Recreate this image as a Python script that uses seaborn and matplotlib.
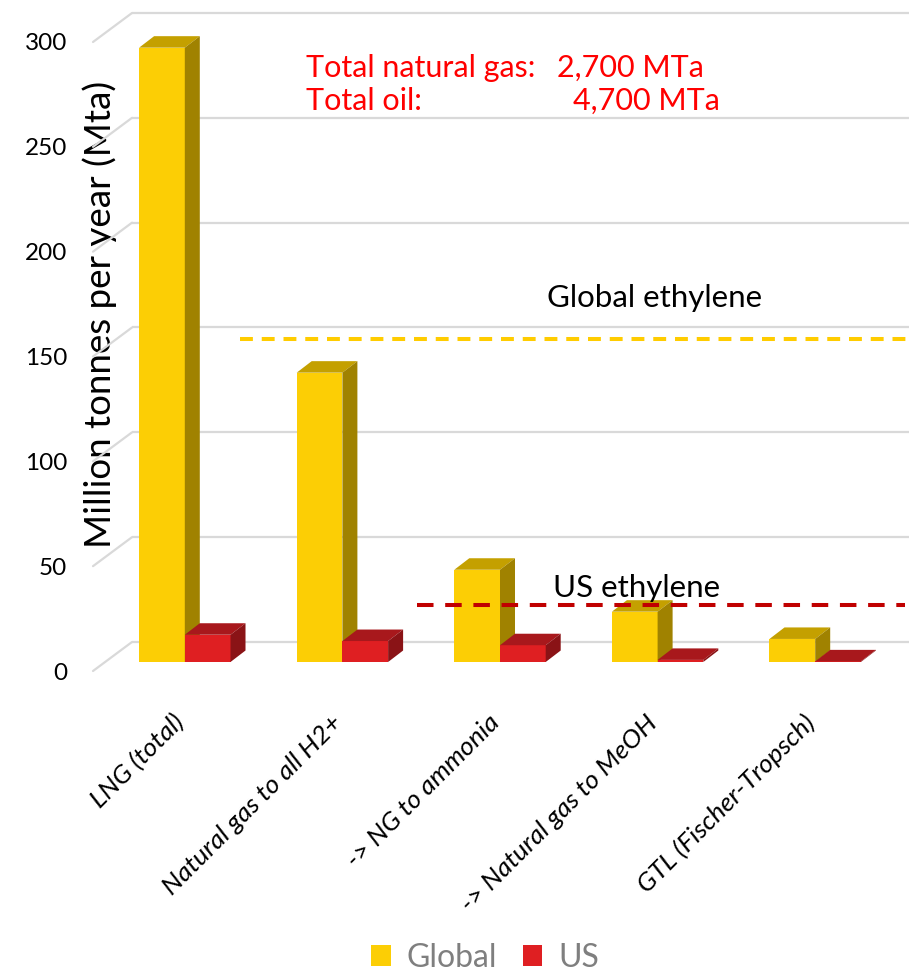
import matplotlib
matplotlib.use("Agg")
import matplotlib.pyplot as plt
from matplotlib.patches import Polygon
from matplotlib.transforms import ScaledTranslation
import pandas as pd
import seaborn as sns

# ---- data -------------------------------------------------------------
categories = [
    "LNG (total)",
    "Natural gas to all H2+",
    "-> NG to ammonia",
    "-> Natural gas to MeOH",
    "GTL (Fischer-Tropsch)",
]
series_names = ["Global", "US"]
global_mta = [293, 138, 44, 24, 11]
us_mta = [13, 10, 8, 1, 0.3]
yticks = [0, 50, 100, 150, 200, 250, 300]
ethylene_labels = ["Global ethylene", "US ethylene"]
ethylene_mta = [154, 27]
totals_labels = ["Total natural gas:", "Total oil:"]
totals_values = ["2,700 MTa", "4,700 MTa"]

# ---- style ------------------------------------------------------------
sns.set_theme(style="white")
plt.rcParams["font.family"] = ["Lato", "DejaVu Sans"]

W, H, DPI = 909, 972, 100
fig = plt.figure(figsize=(W / DPI, H / DPI), dpi=DPI)
ax = fig.add_axes([106 / W, 310 / H, 788 / W, 629 / H])

front = {"Global": "#FCCE05", "US": "#DF1F22"}
top = {"Global": "#C4A000", "US": "#A8181C"}
side = {"Global": "#A08200", "US": "#8A1316"}
grid_color = "#D9D9D9"

df = pd.DataFrame({
    "category": categories * 2,
    "series": [series_names[0]] * len(categories) + [series_names[1]] * len(categories),
    "value": global_mta + us_mta,
})

sns.barplot(data=df, x="category", y="value", hue="series", palette=front,
            saturation=1, width=0.58, linewidth=0, ax=ax)
ax.set_xlim(-0.5, 4.5)
ax.set_ylim(0, 300)
for sp in ax.spines.values():
    sp.set_visible(False)
ax.grid(False)

# pixel offsets of the oblique projection (walls and bar depth)
FRONT_WALL = (-13, -9)
BACK_WALL = (26, 20)
BAR_DEPTH = (15, 11.5)


def shifted(x, y, dx, dy):
    px, py = ax.transData.transform((x, y))
    return tuple(ax.transData.inverted().transform((px + dx, py + dy)))


# back wall gridlines and the left wall edges
for v in yticks:
    x0, y0 = shifted(-0.5, v, *BACK_WALL)
    x1, y1 = shifted(4.6, v, *BACK_WALL)
    ax.plot([x0, x1], [y0, y1], color=grid_color, lw=1.6, zorder=1,
            clip_on=False, solid_capstyle="butt")
    xf, yf = shifted(-0.5, v, *FRONT_WALL)
    ax.plot([xf, x0], [yf, y0], color=grid_color, lw=1.6, zorder=1,
            clip_on=False)

# give every bar a top face and a right side face
bars = [(p, s) for c, s in zip(ax.containers, series_names) for p in c]
bars.sort(key=lambda t: t[0].get_x())
for k, (bar, s) in enumerate(bars):
    z = 3 + 0.1 * k
    bar.set_zorder(z)
    x0, w, h = bar.get_x(), bar.get_width(), bar.get_height()
    fl, fr = (x0, h), (x0 + w, h)
    bl, br = shifted(x0, h, *BAR_DEPTH), shifted(x0 + w, h, *BAR_DEPTH)
    sb = shifted(x0 + w, 0, *BAR_DEPTH)
    ax.add_patch(Polygon([fl, fr, br, bl], closed=True, fc=top[s], ec="none",
                         zorder=z, clip_on=False))
    ax.add_patch(Polygon([(x0 + w, 0), fr, br, sb], closed=True, fc=side[s],
                         ec="none", zorder=z, clip_on=False))

# reference lines for ethylene production
eth_colors = ["#FFCC00", "#C00000"]
eth_span = [(0.170, 1.02), (0.395, 1.014)]
eth_dash = [(3.2, 2.2), (4.1, 2.9)]
for val, col, (a, b), dash in zip(ethylene_mta, eth_colors, eth_span, eth_dash):
    ln = ax.axhline(val, xmin=a, xmax=b, color=col, lw=2.9, zorder=10,
                    clip_on=False, dash_capstyle="butt")
    ln.set_dashes(dash)

fig.text(655 / W, 1 - 298 / H, ethylene_labels[0], ha="center", va="center",
         fontsize=22.5, color="black")
fig.text(637 / W, 1 - 588 / H, ethylene_labels[1], ha="center", va="center",
         fontsize=22.5, color="black", zorder=11)

# totals annotation
red = "#FF0000"
fig.text(306 / W, 1 - 68 / H, totals_labels[0], color=red, fontsize=22, va="center")
fig.text(557 / W, 1 - 68 / H, totals_values[0], color=red, fontsize=22, va="center")
fig.text(306 / W, 1 - 101 / H, totals_labels[1], color=red, fontsize=22, va="center")
fig.text(573 / W, 1 - 101 / H, totals_values[1], color=red, fontsize=22, va="center")

# axes text
ax.set_yticks(yticks)
ax.set_yticklabels([str(v) for v in yticks])
ax.tick_params(axis="y", length=0, pad=28, labelsize=17.5, labelcolor="black")
ax.tick_params(axis="x", length=0, pad=41, labelsize=19, labelcolor="black")
ax.set_xlabel("")
ax.set_ylabel("Million tonnes per year (Mta)", fontsize=26.5, color="black", va="center")
ax.yaxis.set_label_coords((100 - 106) / 788, (972 - 314 - 310) / 629)

down = ScaledTranslation(0, -9 / DPI, fig.dpi_scale_trans)
for lab in ax.get_yticklabels():
    lab.set_transform(lab.get_transform() + down)
left = ScaledTranslation(-4 / DPI, 0, fig.dpi_scale_trans)
for lab in ax.get_xticklabels():
    lab.set_rotation(45)
    lab.set_ha("right")
    lab.set_va("center")
    lab.set_rotation_mode("anchor")
    lab.set_style("italic")
    lab.set_transform(lab.get_transform() + left)

sns.move_legend(ax, "center", bbox_to_anchor=(485 / W, 1 - 958 / H),
                bbox_transform=fig.transFigure, ncol=2, frameon=False, title=None,
                fontsize=23, labelcolor="#7F7F7F", handlelength=0.62,
                handleheight=0.62, handletextpad=0.5, columnspacing=0.8)

fig.savefig("out.png", dpi=DPI)
